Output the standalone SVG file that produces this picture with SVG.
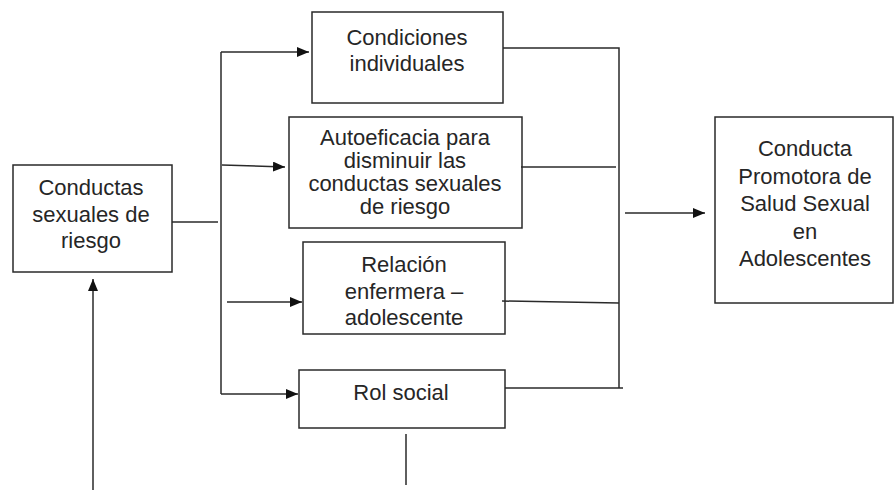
<svg xmlns="http://www.w3.org/2000/svg" width="895" height="490" viewBox="0 0 895 490">
<defs>
<style>
.box{fill:#fff;stroke:#2a2a2a;stroke-width:1.5}
.t{font-family:"Liberation Sans",Arial,sans-serif;font-size:22px;fill:#262626;text-anchor:middle}
.c{fill:none;stroke:#2a2a2a;stroke-width:1.5}
</style>
<marker id="ah" markerUnits="userSpaceOnUse" markerWidth="13" markerHeight="10" refX="12" refY="5" orient="auto">
<path d="M0,0 L12,5 L0,10 z" fill="#111"/>
</marker>
</defs>
<rect width="895" height="490" fill="#fff"/>
<g id="n-conductas">
<rect class="box" x="13" y="165" width="159" height="107"/>
<text class="t" x="91" y="195">Conductas</text>
<text class="t" x="91" y="222">sexuales de</text>
<text class="t" x="91" y="248">riesgo</text>
</g>
<g id="n-condiciones">
<rect class="box" x="312" y="12" width="191" height="91"/>
<text class="t" x="407" y="45">Condiciones</text>
<text class="t" x="407" y="71">individuales</text>
</g>
<g id="n-autoeficacia">
<rect class="box" x="289" y="117" width="233" height="111"/>
<text class="t" x="405" y="145">Autoeficacia para</text>
<text class="t" x="405" y="168">disminuir las</text>
<text class="t" x="405" y="191">conductas sexuales</text>
<text class="t" x="405" y="214">de riesgo</text>
</g>
<g id="n-relacion">
<rect class="box" x="303" y="242" width="202" height="92"/>
<text class="t" x="404" y="272">Relación</text>
<text class="t" x="404" y="299">enfermera –</text>
<text class="t" x="404" y="325">adolescente</text>
</g>
<g id="n-rol">
<rect class="box" x="299" y="370" width="206" height="58"/>
<text class="t" x="401" y="400">Rol social</text>
</g>
<g id="n-final">
<rect class="box" x="715" y="117" width="178" height="186"/>
<text class="t" x="805" y="156">Conducta</text>
<text class="t" x="805" y="183.5">Promotora de</text>
<text class="t" x="805" y="211">Salud Sexual</text>
<text class="t" x="805" y="238.5">en</text>
<text class="t" x="805" y="266">Adolescentes</text>
</g>
<g id="connectors">
<path class="c" d="M172,222 H218"/>
<path class="c" d="M221,52 V394"/>
<path class="c" d="M221,52 H309" marker-end="url(#ah)"/>
<path class="c" d="M222,165 L285,167" marker-end="url(#ah)"/>
<path class="c" d="M227,302 H302" marker-end="url(#ah)"/>
<path class="c" d="M221,394 H298" marker-end="url(#ah)"/>
<path class="c" d="M503,48 H619 V388"/>
<path class="c" d="M521,167 H616"/>
<path class="c" d="M502,301 L619,303"/>
<path class="c" d="M505,388 H623"/>
<path class="c" d="M625,213 H705" marker-end="url(#ah)"/>
<path class="c" d="M93,490 V279" marker-end="url(#ah)"/>
<path class="c" d="M406,434 V485"/>
</g>
</svg>
